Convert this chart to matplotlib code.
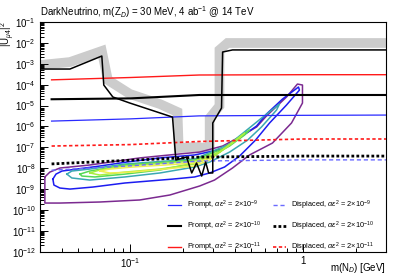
import numpy as np
import matplotlib
matplotlib.use('Agg')
import matplotlib.pyplot as plt
from matplotlib.ticker import LogLocator, NullFormatter

plt.rcParams['font.family'] = ['Liberation Sans', 'DejaVu Sans']
plt.rcParams['mathtext.fontset'] = 'custom'
plt.rcParams['mathtext.rm'] = 'Liberation Sans'
plt.rcParams['mathtext.it'] = 'Liberation Sans:italic'
plt.rcParams['mathtext.bf'] = 'Liberation Sans:bold'

# existing limits (grey band)
band_m = [0.030, 0.0447, 0.0683, 0.0740, 0.0991, 0.148, 0.187, 0.190, 0.235, 0.287, 0.287, 0.327, 0.327, 0.364, 3.0]
band_u = [8.7e-4, 1.21e-3, 4.1e-3, 1.67e-4, 3.6e-5, 1.18e-5, 4.9e-6, 9.2e-8, 1.03e-7, 9.2e-8, 2.5e-6, 9.5e-6, 4.6e-3, 9.9e-3, 9.9e-3]

# black limit curve
lim_m = [0.030, 0.0447, 0.0683, 0.0701, 0.0791, 0.0991, 0.175, 0.183, 0.211, 0.226, 0.241, 0.258,
         0.272, 0.283, 0.299, 0.299, 0.336, 0.341, 0.389, 3.0]
lim_u = [5.6e-4, 5.6e-4, 2.35e-3, 9.6e-5, 2.56e-5, 1.32e-5, 2.8e-6, 2.46e-8, 3.4e-8, 5.9e-9, 1.77e-8, 4.2e-9,
         1.97e-8, 5.9e-9, 5.9e-9, 1.46e-6, 7.6e-6, 3.66e-3, 4.6e-3, 4.6e-3]

# prompt / displaced sensitivity lines
line_m = [0.035, 0.1, 0.25, 1.0, 3.0]
prompt_9 = [1.8e-6, 2.3e-6, 3.2e-6, 3.4e-6, 3.5e-6]
prompt_10 = [2.0e-5, 2.2e-5, 3.2e-5, 3.2e-5, 3.2e-5]
prompt_11 = [1.7e-4, 2.2e-4, 2.9e-4, 3.0e-4, 3.0e-4]
displ_9 = [8.0e-9, 1.3e-8, 2.2e-8, 2.5e-8, 2.5e-8]
displ_10 = [1.6e-8, 2.4e-8, 3.4e-8, 3.8e-8, 3.8e-8]
displ_11 = [1.15e-7, 1.35e-7, 1.9e-7, 2.5e-7, 2.5e-7]

# signal contours (outer -> inner)
purple_m = [0.0320, 0.0342, 0.0391, 0.0582, 0.113, 0.192, 0.251, 0.341, 0.427, 0.536, 0.611, 0.798, 0.923,
            0.987, 0.987, 0.853, 0.662, 0.488, 0.389, 0.306, 0.251, 0.169, 0.113, 0.0665, 0.0391, 0.0320, 0.0320]
purple_u = [3.8e-9, 6.5e-9, 1.02e-8, 1.42e-8, 3.1e-8, 4.8e-8, 5.9e-8, 1.15e-7, 3.1e-7, 9.4e-7, 3.15e-6, 2.56e-5, 1.07e-4,
            9.6e-5, 1.32e-5, 1.46e-6, 1.6e-7, 4.3e-8, 1.02e-8, 2.7e-9, 1.4e-9, 5.2e-10, 3.0e-10, 2.4e-10, 2.14e-10, 2.14e-10, 3.8e-9]

blue_m = [0.0356, 0.0371, 0.0402, 0.0665, 0.0952, 0.148, 0.235, 0.341, 0.427, 0.536, 0.611, 0.757, 0.936,
          0.948, 0.798, 0.637, 0.528, 0.427, 0.350, 0.287, 0.235, 0.175, 0.0927, 0.0606, 0.0447, 0.0391, 0.0361, 0.0356]
blue_u = [3.0e-9, 5.2e-9, 7.3e-9, 1.27e-8, 1.97e-8, 3.1e-8, 4.3e-8, 8.3e-8, 2.8e-7, 1.05e-6, 3.9e-6, 2.05e-5, 7.7e-5,
          5.5e-5, 1.06e-5, 1.46e-6, 2.2e-7, 3.8e-8, 1.14e-8, 5.9e-9, 3.8e-9, 3.0e-9, 1.95e-9, 1.25e-9, 1.0e-9, 1.12e-9, 1.56e-9, 3.0e-9]

teal_m = [0.0429, 0.0458, 0.0582, 0.0927, 0.235, 0.374, 0.572, 0.727,
          0.699, 0.572, 0.475, 0.374, 0.287, 0.235, 0.148, 0.0927, 0.0582, 0.0458, 0.0429]
teal_u = [5.2e-9, 7.3e-9, 9.1e-9, 1.58e-8, 2.75e-8, 1.44e-7, 2.5e-6, 1.18e-5,
          6.1e-6, 9.4e-7, 2.2e-7, 5.9e-8, 1.97e-8, 1.14e-8, 5.9e-9, 3.8e-9, 2.7e-9, 3.4e-9, 5.2e-9]

green_m = [0.0510, 0.0582, 0.0927, 0.235, 0.350, 0.427, 0.488,
           0.457, 0.374, 0.287, 0.235, 0.148, 0.0927, 0.0622, 0.0524, 0.0510]
green_u = [5.2e-9, 7.3e-9, 1.42e-8, 2.46e-8, 9.2e-8, 3.1e-7, 6.7e-7,
           3.9e-7, 1.15e-7, 3.4e-8, 1.77e-8, 8.2e-9, 5.2e-9, 3.8e-9, 4.2e-9, 5.2e-9]

lgreen_m = [0.0582, 0.0665, 0.0927, 0.235, 0.327, 0.457,
            0.427, 0.306, 0.235, 0.148, 0.0927, 0.0665, 0.0582]
lgreen_u = [5.9e-9, 8.2e-9, 1.27e-8, 2.2e-8, 5.9e-8, 4.8e-7,
            2.8e-7, 3.8e-8, 1.58e-8, 9.1e-9, 6.5e-9, 4.7e-9, 5.9e-9]

yellow_m = [0.0665, 0.0760, 0.103, 0.158, 0.235, 0.306,
            0.287, 0.235, 0.158, 0.103, 0.0760, 0.0665]
yellow_u = [7.3e-9, 9.1e-9, 1.14e-8, 1.42e-8, 1.77e-8, 3.8e-8,
            2.46e-8, 1.27e-8, 9.1e-9, 6.5e-9, 5.9e-9, 7.3e-9]

fig = plt.figure(figsize=(4.07, 2.79), dpi=100)
ax = fig.add_axes([0.0983, 0.0978, 0.8501, 0.8233])

ax.plot(band_m, band_u, color='#cccccc', lw=7, solid_joinstyle='miter', zorder=1)

contours = [(purple_m, purple_u, '#7b2a90'), (blue_m, blue_u, '#1c1cf0'), (teal_m, teal_u, '#3aa8b2'),
            (green_m, green_u, '#55d855'), (lgreen_m, lgreen_u, '#a8ee40'), (yellow_m, yellow_u, '#eeee50')]
for cm, cu, col in contours:
    ax.plot(cm, cu, color=col, lw=1.1, zorder=2)

ax.plot(lim_m, lim_u, color='black', lw=1.1, zorder=4)

h1, = ax.plot(line_m, prompt_9, color='#2a2aff', lw=0.9, zorder=3)
h2, = ax.plot(line_m, prompt_10, color='black', lw=1.5, zorder=3)
h3, = ax.plot(line_m, prompt_11, color='#ff1a1a', lw=1.0, zorder=3)
h4, = ax.plot(line_m, displ_9, color='#6a6aff', lw=1.0, ls=(0, (3, 2)), zorder=3)
h5, = ax.plot(line_m, displ_10, color='black', lw=2.0, ls=(0, (1, 0.8)), zorder=3)
h6, = ax.plot(line_m, displ_11, color='#ff1a1a', lw=1.2, ls=(0, (2, 1.5)), zorder=3)

labels = ['Prompt, $\\alpha\\epsilon^{2}$ = 2$\\times$10$^{-9}$',
          'Prompt, $\\alpha\\epsilon^{2}$ = 2$\\times$10$^{-10}$',
          'Prompt, $\\alpha\\epsilon^{2}$ = 2$\\times$10$^{-11}$',
          'Displaced, $\\alpha\\epsilon^{2}$ = 2$\\times$10$^{-9}$',
          'Displaced, $\\alpha\\epsilon^{2}$ = 2$\\times$10$^{-10}$',
          'Displaced, $\\alpha\\epsilon^{2}$ = 2$\\times$10$^{-11}$']
ax.legend([h1, h2, h3, h4, h5, h6], labels, ncol=2, frameon=False, fontsize=5.3,
          loc='upper left', bbox_to_anchor=(0.36, 0.245), borderpad=0, handlelength=1.8,
          handletextpad=0.7, labelspacing=1.05, columnspacing=1.6)

ax.set_xscale('log')
ax.set_yscale('log')
ax.set_xlim(0.03, 3.0)
ax.set_ylim(1e-12, 1e-1)

ax.set_xticks([0.1, 1.0])
ax.set_xticklabels(['$10^{-1}$', '1'])
ax.xaxis.set_minor_locator(LogLocator(base=10, subs=np.arange(2, 10), numticks=50))
ax.xaxis.set_minor_formatter(NullFormatter())
ax.yaxis.set_major_locator(LogLocator(base=10, numticks=30))
ax.yaxis.set_minor_locator(LogLocator(base=10, subs=np.arange(2, 10), numticks=200))
ax.yaxis.set_minor_formatter(NullFormatter())

ax.tick_params(which='both', direction='in', top=False, right=False, labelsize=7, width=0.7)
ax.tick_params(which='major', length=5.5, pad=3)
ax.tick_params(which='minor', length=2.8)
for s in ax.spines.values():
    s.set_linewidth(0.8)

fig.text(0.0983, 0.957, 'DarkNeutrino, m(Z$_{D}$) = 30 MeV, 4 ab$^{-1}$ @ 14 TeV',
         ha='left', va='center', fontsize=7)
fig.text(0.9484, 0.04, 'm(N$_{D}$) [GeV]', ha='right', va='center', fontsize=7)
fig.text(0.02, 0.925, '|U$_{\\mu 4}$|$^{2}$', ha='center', va='top', rotation=90, fontsize=7)

fig.savefig('out.png', dpi=100)
